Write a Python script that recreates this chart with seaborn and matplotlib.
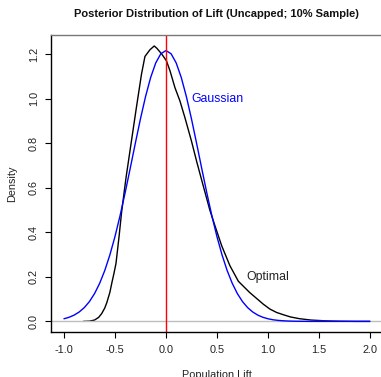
import matplotlib
matplotlib.use("Agg")
import matplotlib.pyplot as plt
import seaborn as sns
import pandas as pd

# ---- data ----
gauss_x = [-1.00, -0.95, -0.90, -0.85, -0.80, -0.75, -0.70, -0.65, -0.60, -0.55,
           -0.50, -0.45, -0.40, -0.35, -0.30, -0.25, -0.20, -0.15, -0.10, -0.05,
           0.00, 0.05, 0.10, 0.15, 0.20, 0.25, 0.30, 0.35, 0.40, 0.45,
           0.50, 0.55, 0.60, 0.65, 0.70, 0.75, 0.80, 0.85, 0.90, 0.95,
           1.00, 1.05, 1.10, 1.15, 1.20, 1.25, 1.30, 1.35, 1.40, 1.45,
           1.50, 1.60, 1.70, 1.80, 1.90, 2.00]
gauss_y = [0.0117, 0.0184, 0.0282, 0.0424, 0.0621, 0.0891, 0.1248, 0.1708, 0.2283, 0.2982,
           0.3806, 0.4746, 0.5782, 0.6883, 0.8006, 0.9098, 1.0100, 1.0955, 1.1611, 1.2023,
           1.2163, 1.2023, 1.1611, 1.0955, 1.0100, 0.9098, 0.8006, 0.6883, 0.5782, 0.4746,
           0.3806, 0.2982, 0.2283, 0.1708, 0.1248, 0.0891, 0.0621, 0.0424, 0.0282, 0.0184,
           0.0117, 0.0072, 0.0044, 0.0026, 0.0015, 0.0009, 0.0005, 0.0003, 0.0001, 0.0001,
           0.0000, 0.0000, 0.0000, 0.0000, 0.0000, 0.0000]

optimal_x = [-0.81, -0.75, -0.70, -0.66, -0.63, -0.60, -0.58, -0.55, -0.53, -0.51,
             -0.49, -0.46, -0.435, -0.41, -0.39, -0.353, -0.29, -0.24, -0.206, -0.157,
             -0.115, -0.09, -0.04, 0.005, 0.04, 0.088, 0.137, 0.186, 0.25, 0.30,
             0.35, 0.43, 0.48, 0.546, 0.627, 0.71, 0.82, 0.955, 1.02, 1.085,
             1.15, 1.22, 1.31, 1.42, 1.54, 1.70, 1.85, 2.00]
optimal_y = [0.000, 0.001, 0.006, 0.018, 0.035, 0.060, 0.084, 0.130, 0.174, 0.215,
             0.260, 0.380, 0.490, 0.580, 0.650, 0.765, 0.960, 1.110, 1.190, 1.220,
             1.237, 1.227, 1.200, 1.170, 1.125, 1.050, 0.990, 0.915, 0.810, 0.720,
             0.635, 0.500, 0.430, 0.340, 0.250, 0.180, 0.130, 0.077, 0.055, 0.040,
             0.030, 0.020, 0.012, 0.006, 0.003, 0.001, 0.000, 0.000]

x_ticks = [-1.0, -0.5, 0.0, 0.5, 1.0, 1.5, 2.0]
y_ticks = [0.0, 0.2, 0.4, 0.6, 0.8, 1.0, 1.2]

title = "Posterior Distribution of Lift (Uncapped; 10% Sample)"
x_label = "Population Lift"
y_label = "Density"

# ---- styling ----
sns.set_style("white")
plt.rcParams['font.family'] = ['Liberation Sans', 'DejaVu Sans']
plt.rcParams['axes.unicode_minus'] = False

fig = plt.figure(figsize=(3.81, 3.77), dpi=100)
ax = fig.add_axes([51.2 / 381, 1 - 332.4 / 377, 330.5 / 381, 297.4 / 377])

opt_df = pd.DataFrame({"x": optimal_x, "y": optimal_y})
gau_df = pd.DataFrame({"x": gauss_x, "y": gauss_y})

sns.lineplot(data=opt_df, x="x", y="y", ax=ax, color="black", linewidth=1.0,
             sort=False, estimator=None)
ax.axhline(0, color="#BEBEBE", linewidth=1.0)
sns.lineplot(data=gau_df, x="x", y="y", ax=ax, color="blue", linewidth=1.0,
             sort=False, estimator=None)
ax.axvline(0, color="red", linewidth=1.0)

ax.text(0.5, 1.0, "Gaussian", color="blue", ha="center", va="center", fontsize=8.8)
ax.text(1.0, 0.2, "Optimal", color="#222222", ha="center", va="center", fontsize=8.8)

ax.set_xlim(-1.125, 2.115)
ax.set_ylim(-0.0495, 1.2863)
ax.set_xticks(x_ticks)
ax.set_xticklabels([f"{v:.1f}" for v in x_ticks])
ax.set_yticks(y_ticks)
ax.set_yticklabels([f"{v:.1f}" for v in y_ticks])

ax.tick_params(axis="both", direction="out", length=4.0, width=0.8, color="black",
               labelsize=7.8, labelcolor="#222222")
ax.tick_params(axis="x", pad=5.0, bottom=True)
ax.tick_params(axis="y", pad=5.0, left=True, labelrotation=90)
for lbl in ax.get_yticklabels():
    lbl.set_va("center")

for side in ["left", "bottom", "right"]:
    ax.spines[side].set_color("black")
    ax.spines[side].set_linewidth(1.0)
ax.spines["top"].set_color("#777777")
ax.spines["top"].set_linewidth(1.0)

ax.set_xlabel(x_label, fontsize=7.8, color="#222222", labelpad=11)
ax.set_ylabel(y_label, fontsize=7.8, color="#222222", labelpad=8)
ax.set_title(title, fontsize=8.05, fontweight="bold", color="#111111", pad=13)

fig.savefig("out.png", dpi=100)
